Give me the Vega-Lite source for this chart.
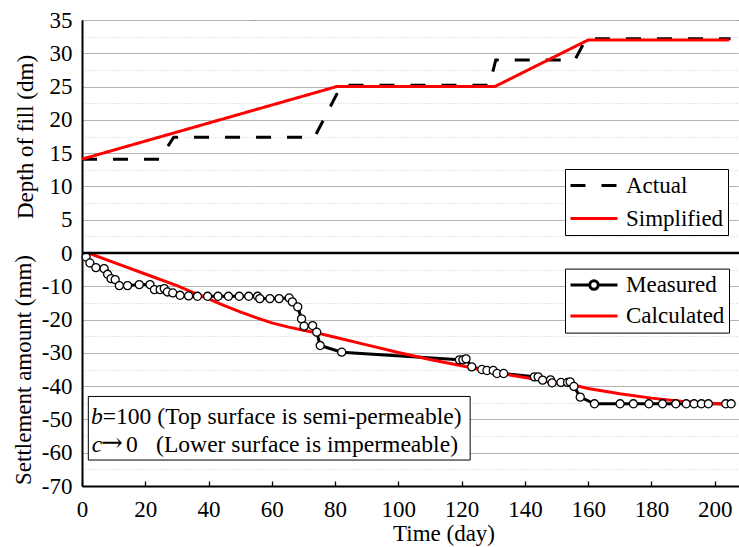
{
  "$schema": "https://vega.github.io/schema/vega-lite/v6.json",
  "padding": {"left": 11, "top": 8, "right": 0, "bottom": 0},
  "background": "white",
  "spacing": 0,
  "bounds": "flush",
  "config": {
    "view": {"stroke": "black", "strokeWidth": 1},
    "font": "Liberation Serif",
    "axis": {
      "labelFont": "Liberation Serif", "labelFontSize": 23, "labelColor": "black",
      "titleFont": "Liberation Serif", "titleFontSize": 23, "titleFontWeight": "normal", "titleColor": "black",
      "domainColor": "black", "tickColor": "black", "labelOverlap": false, "labelFlush": false
    },
    "legend": {
      "orient": "none", "title": null, "strokeColor": "black", "strokeWidth": 1, "fillColor": "white",
      "padding": 4, "labelFont": "Liberation Serif", "labelFontSize": 23, "labelColor": "black",
      "symbolSize": 484, "symbolStrokeWidth": 3, "labelOffset": 32
    }
  },
  "datasets": {
    "fill": [
      {"series": "Actual", "day": 0, "depth": 14.1},
      {"series": "Actual", "day": 24.5, "depth": 14.1},
      {"series": "Actual", "day": 29, "depth": 17.4},
      {"series": "Actual", "day": 73.5, "depth": 17.4},
      {"series": "Actual", "day": 82, "depth": 25.2},
      {"series": "Actual", "day": 128.8, "depth": 25.2},
      {"series": "Actual", "day": 130.8, "depth": 29},
      {"series": "Actual", "day": 155.8, "depth": 29},
      {"series": "Actual", "day": 159.4, "depth": 32.2},
      {"series": "Actual", "day": 205, "depth": 32.2},
      {"series": "Simplified", "day": 0, "depth": 14.1},
      {"series": "Simplified", "day": 80.5, "depth": 25},
      {"series": "Simplified", "day": 130.5, "depth": 25},
      {"series": "Simplified", "day": 160, "depth": 32},
      {"series": "Simplified", "day": 204.5, "depth": 32}
    ],
    "measured": [
      {"day": 1.3, "s": -1.2}, {"day": 2.5, "s": -3}, {"day": 4.4, "s": -4.4}, {"day": 7, "s": -4.7},
      {"day": 8.1, "s": -6.4}, {"day": 9.2, "s": -7.7}, {"day": 10.5, "s": -8}, {"day": 11.8, "s": -9.8},
      {"day": 14.4, "s": -9.8}, {"day": 18.1, "s": -9.5}, {"day": 21.5, "s": -9.5}, {"day": 22.9, "s": -11},
      {"day": 24.7, "s": -11}, {"day": 26, "s": -10.7}, {"day": 27, "s": -11.7}, {"day": 28.7, "s": -12},
      {"day": 31, "s": -12.7}, {"day": 33.7, "s": -12.9}, {"day": 36.5, "s": -13}, {"day": 39.7, "s": -13},
      {"day": 43, "s": -13}, {"day": 46.3, "s": -13}, {"day": 49.7, "s": -13}, {"day": 52.7, "s": -13},
      {"day": 55.5, "s": -13}, {"day": 56.2, "s": -13.7}, {"day": 59.4, "s": -13.7}, {"day": 62.3, "s": -13.7},
      {"day": 65.5, "s": -13.5}, {"day": 66.5, "s": -14.7}, {"day": 68.2, "s": -16.2}, {"day": 69.4, "s": -19.8},
      {"day": 70.2, "s": -22}, {"day": 72.9, "s": -21.8}, {"day": 74.2, "s": -23.8}, {"day": 75.3, "s": -27.8},
      {"day": 82.1, "s": -29.8}, {"day": 119.3, "s": -32.1}, {"day": 120.4, "s": -32.1}, {"day": 121.4, "s": -31.8},
      {"day": 123.2, "s": -34.2}, {"day": 126.4, "s": -35}, {"day": 128, "s": -35.3}, {"day": 130, "s": -35.3},
      {"day": 131.2, "s": -36.2}, {"day": 133.3, "s": -36.2}, {"day": 143, "s": -37.2}, {"day": 144.2, "s": -37.2},
      {"day": 145.6, "s": -38.2}, {"day": 148.1, "s": -38.1}, {"day": 148.6, "s": -39}, {"day": 151.4, "s": -38.9},
      {"day": 153.5, "s": -38.9}, {"day": 154.3, "s": -38.7}, {"day": 155.5, "s": -40.1}, {"day": 157.5, "s": -43.3},
      {"day": 162, "s": -45.3}, {"day": 170.1, "s": -45.3}, {"day": 174.3, "s": -45.3}, {"day": 179.2, "s": -45.3},
      {"day": 183.5, "s": -45.3}, {"day": 187.7, "s": -45.3}, {"day": 191, "s": -45.3}, {"day": 193.5, "s": -45.3},
      {"day": 195.8, "s": -45.3}, {"day": 198, "s": -45.3}, {"day": 203.5, "s": -45.3}, {"day": 205.2, "s": -45.3}
    ],
    "calculated": [
      {"day": 2, "s": 0}, {"day": 10, "s": -2.8}, {"day": 20, "s": -6.3}, {"day": 30, "s": -9.8},
      {"day": 35, "s": -11.8}, {"day": 40, "s": -13.8}, {"day": 45, "s": -15.8}, {"day": 50, "s": -17.7},
      {"day": 55, "s": -19.4}, {"day": 60, "s": -21}, {"day": 65, "s": -22.2}, {"day": 70, "s": -23.2},
      {"day": 75, "s": -24.2}, {"day": 80, "s": -25.3}, {"day": 90, "s": -27.6}, {"day": 100, "s": -29.9},
      {"day": 110, "s": -32}, {"day": 120, "s": -33.9}, {"day": 130, "s": -35.8}, {"day": 140, "s": -37.4},
      {"day": 150, "s": -38.9}, {"day": 155, "s": -39.6}, {"day": 160, "s": -40.7}, {"day": 170, "s": -42.3},
      {"day": 180, "s": -43.6}, {"day": 190, "s": -44.6}, {"day": 200, "s": -45.2}, {"day": 204.5, "s": -45.5}
    ]
  },
  "vconcat": [
    {
      "width": 658, "height": 233,
      "data": {"name": "fill"},
      "mark": {"type": "line", "strokeWidth": 3},
      "encoding": {
        "x": {"field": "day", "type": "quantitative", "scale": {"domain": [0, 208], "nice": false, "zero": false}, "axis": null},
        "y": {
          "field": "depth", "type": "quantitative", "scale": {"domain": [0, 35], "nice": false},
          "axis": {
            "values": [0, 2.5, 5, 7.5, 10, 12.5, 15, 17.5, 20, 22.5, 25, 27.5, 30, 32.5, 35],
            "labelExpr": "datum.value % 5 === 0 && datum.value > 0 ? datum.label : ''",
            "labelOverlap": false,
            "ticks": false, "domainWidth": 2, "labelPadding": 10,
            "gridColor": {"condition": {"test": "datum.value % 5 !== 0", "value": "#d0d0d0"}, "value": "#b3b3b3"},
            "gridDash": {"condition": {"test": "datum.value % 5 !== 0", "value": [1, 2]}, "value": [1, 0]},
            "gridWidth": 1.2,
            "title": "Depth of fill (dm)", "titleX": -57, "titleBaseline": "middle"
          }
        },
        "color": {
          "field": "series", "type": "nominal",
          "scale": {"domain": ["Actual", "Simplified"], "range": ["black", "#ff0000"]},
          "legend": {
            "orient": "none", "legendX": 483, "legendY": 149, "rowPadding": 8,
            "encode": {"symbols": {"update": {"shape": {"value": "M-1,0H3.27"}}}}
          }
        },
        "strokeDash": {
          "field": "series", "type": "nominal",
          "scale": {"domain": ["Actual", "Simplified"], "range": [[15, 16], [1, 0]]},
          "legend": {
            "orient": "none", "legendX": 483, "legendY": 149, "rowPadding": 8,
            "encode": {"symbols": {"update": {"shape": {"value": "M-1,0H3.27"}}}}
          }
        }
      }
    },
    {
      "width": 658, "height": 233,
      "resolve": {"axis": {"y": "independent"}},
      "layer": [
        {
          "data": {"name": "measured"},
          "mark": {"type": "line", "strokeWidth": 3},
          "encoding": {
            "x": {
              "field": "day", "type": "quantitative", "scale": {"domain": [0, 208], "nice": false, "zero": false},
              "axis": {
                "values": [0, 10, 20, 30, 40, 50, 60, 70, 80, 90, 100, 110, 120, 130, 140, 150, 160, 170, 180, 190, 200],
                "labelExpr": "datum.value % 20 === 0 ? datum.label : ''",
                "labelOverlap": false,
                "tickSize": -5, "tickWidth": 1.3, "domainWidth": 2, "labelPadding": 35, "labelBaseline": "alphabetic",
                "grid": false, "title": "Time (day)", "titleX": 361.5, "titleY": 54, "titleBaseline": "alphabetic"
              }
            },
            "y": {
              "field": "s", "type": "quantitative", "scale": {"domain": [-70, 0], "nice": false},
              "axis": {
                "values": [-70, -60, -50, -40, -30, -20, -10, 0],
                "labelExpr": "'' + datum.value",
                "labelOverlap": false,
                "ticks": false, "domainWidth": 2, "labelPadding": 10,
                "gridColor": "#b3b3b3", "gridWidth": 1.2,
                "title": "Settlement amount (mm)", "titleX": -58.5, "titleBaseline": "middle"
              }
            },
            "color": {
              "datum": "Measured",
              "scale": {"domain": ["Measured", "Calculated"], "range": ["black", "#ff0000"]},
              "legend": {
                "orient": "none", "legendX": 483, "legendY": 15.6, "rowPadding": 6,
                "encode": {"symbols": {"update": {
                  "shape": {"signal": "datum.label === 'Measured' ? 'M-1,0H0.75M1.52,0H3.27M1.52,0A0.385,0.385,0,1,1,0.75,0A0.385,0.385,0,1,1,1.52,0' : 'M-1,0H3.27'"},
                  "fill": {"value": "white"}
                }}}
              }
            }
          }
        },
        {
          "data": {"name": "calculated"},
          "mark": {"type": "line", "strokeWidth": 3},
          "encoding": {
            "x": {"field": "day", "type": "quantitative"},
            "y": {
              "field": "s", "type": "quantitative",
              "axis": {
                "orient": "right", "values": [-65, -55, -45, -35, -25, -15, -5],
                "labels": false, "ticks": false, "domain": false, "title": null,
                "grid": true, "gridColor": "#d0d0d0", "gridDash": [1, 2], "gridWidth": 1.2
              }
            },
            "color": {"datum": "Calculated"}
          }
        },
        {
          "data": {"name": "measured"},
          "mark": {"type": "point", "shape": "circle", "filled": true, "fill": "white", "stroke": "black", "strokeWidth": 1.3, "size": 65, "opacity": 1},
          "encoding": {
            "x": {"field": "day", "type": "quantitative"},
            "y": {"field": "s", "type": "quantitative", "axis": null}
          }
        },
        {
          "data": {"values": [{}]},
          "mark": {"type": "rect", "fill": "white", "stroke": "black", "strokeWidth": 1},
          "encoding": {
            "x": {"datum": 2, "type": "quantitative"}, "x2": {"datum": 122.7},
            "y": {"datum": -43.1, "type": "quantitative", "axis": null}, "y2": {"datum": -62.2}
          }
        },
        {
          "data": {"values": [{}]},
          "mark": {"type": "text", "align": "left", "baseline": "alphabetic", "fontSize": 23.6, "fontStyle": "italic", "font": "Liberation Serif", "color": "black"},
          "encoding": {"x": {"datum": 2.84, "type": "quantitative"}, "y": {"datum": -51.4, "type": "quantitative", "axis": null}, "text": {"value": "b"}}
        },
        {
          "data": {"values": [{}]},
          "mark": {"type": "text", "align": "left", "baseline": "alphabetic", "fontSize": 23.6, "font": "Liberation Serif", "color": "black"},
          "encoding": {"x": {"datum": 6.55, "type": "quantitative"}, "y": {"datum": -51.4, "type": "quantitative", "axis": null}, "text": {"value": "=100 (Top surface is semi-permeable)"}}
        },
        {
          "data": {"values": [{}]},
          "mark": {"type": "text", "align": "left", "baseline": "alphabetic", "fontSize": 23.6, "fontStyle": "italic", "font": "Liberation Serif", "color": "black"},
          "encoding": {"x": {"datum": 3.06, "type": "quantitative"}, "y": {"datum": -59.9, "type": "quantitative", "axis": null}, "text": {"value": "c"}}
        },
        {
          "data": {"values": [{}]},
          "mark": {"type": "text", "align": "left", "baseline": "alphabetic", "fontSize": 26, "font": "DejaVu Serif", "color": "black"},
          "encoding": {"x": {"datum": 6.0, "type": "quantitative"}, "y": {"datum": -59.6, "type": "quantitative", "axis": null}, "text": {"value": "→"}}
        },
        {
          "data": {"values": [{}]},
          "mark": {"type": "text", "align": "left", "baseline": "alphabetic", "fontSize": 23.6, "font": "Liberation Serif", "color": "black"},
          "encoding": {"x": {"datum": 13.9, "type": "quantitative"}, "y": {"datum": -59.9, "type": "quantitative", "axis": null}, "text": {"value": "0"}}
        },
        {
          "data": {"values": [{}]},
          "mark": {"type": "text", "align": "left", "baseline": "alphabetic", "fontSize": 23.6, "font": "Liberation Serif", "color": "black"},
          "encoding": {"x": {"datum": 23.4, "type": "quantitative"}, "y": {"datum": -59.9, "type": "quantitative", "axis": null}, "text": {"value": "(Lower surface is impermeable)"}}
        },
        {
          "data": {"values": [{}]},
          "mark": {"type": "rule", "strokeWidth": 2.5, "color": "black"},
          "encoding": {"y": {"datum": 0, "type": "quantitative", "axis": null}}
        }
      ]
    }
  ],
  "resolve": {
    "scale": {"color": "independent", "strokeDash": "independent"},
    "legend": {"color": "independent", "strokeDash": "independent"}
  }
}
